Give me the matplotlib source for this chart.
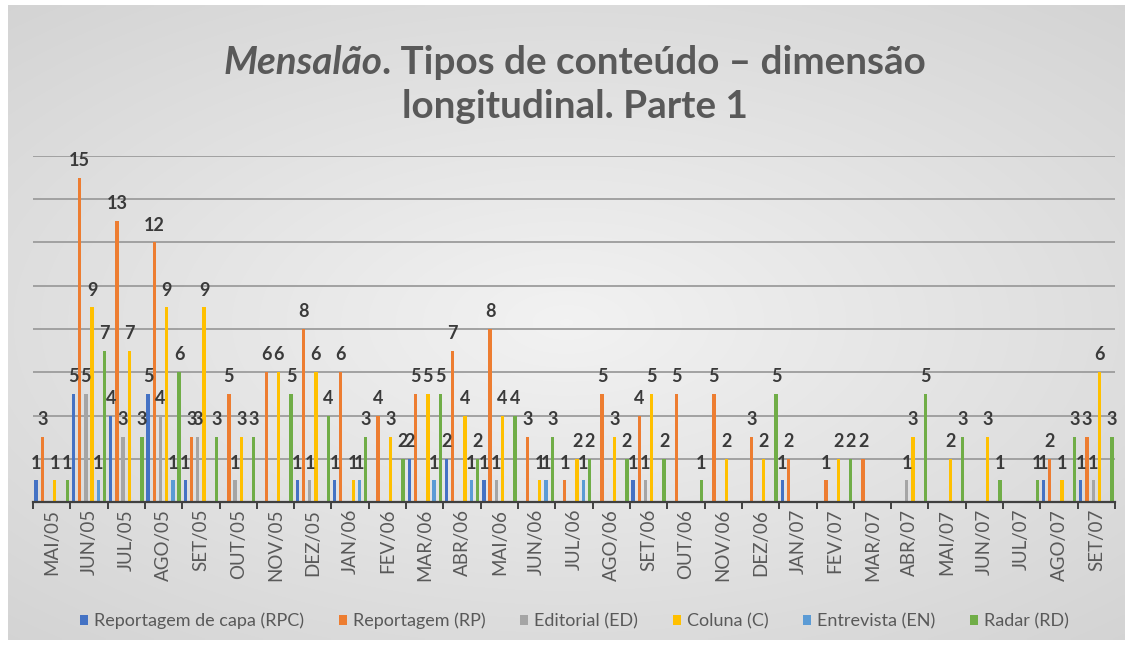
import numpy as np
import matplotlib
matplotlib.use("Agg")
import matplotlib.pyplot as plt
from matplotlib.patches import Patch

months = ["MAI/05", "JUN/05", "JUL/05", "AGO/05", "SET/05", "OUT/05", "NOV/05", "DEZ/05",
          "JAN/06", "FEV/06", "MAR/06", "ABR/06", "MAI/06", "JUN/06", "JUL/06", "AGO/06",
          "SET/06", "OUT/06", "NOV/06", "DEZ/06", "JAN/07", "FEV/07", "MAR/07", "ABR/07",
          "MAI/07", "JUN/07", "JUL/07", "AGO/07", "SET/07"]

rpc = [1, 5, 4, 5, 1, 0, 0, 1, 1, 0, 2, 2, 1, 0, 0, 0, 1, 0, 0, 0, 1, 0, 0, 0, 0, 0, 0, 1, 1]
rp  = [3, 15, 13, 12, 3, 5, 6, 8, 6, 4, 5, 7, 8, 3, 1, 5, 4, 5, 5, 3, 2, 1, 2, 0, 0, 0, 0, 2, 3]
ed  = [0, 5, 3, 4, 3, 1, 0, 1, 0, 0, 0, 0, 1, 0, 0, 0, 1, 0, 0, 0, 0, 0, 0, 1, 0, 0, 0, 0, 1]
col = [1, 9, 7, 9, 9, 3, 6, 6, 1, 3, 5, 4, 4, 1, 2, 3, 5, 0, 2, 2, 0, 2, 0, 3, 2, 3, 0, 1, 6]
en  = [0, 1, 0, 1, 0, 0, 0, 0, 1, 0, 1, 1, 0, 1, 1, 0, 0, 0, 0, 0, 0, 0, 0, 0, 0, 0, 0, 0, 0]
rd  = [1, 7, 3, 6, 3, 3, 5, 4, 3, 2, 5, 2, 4, 3, 2, 2, 2, 1, 0, 5, 0, 2, 0, 5, 3, 1, 1, 3, 3]

series_names = ["Reportagem de capa (RPC)", "Reportagem (RP)", "Editorial (ED)",
                "Coluna (C)", "Entrevista (EN)", "Radar (RD)"]
series_values = [rpc, rp, ed, col, en, rd]
series_colors = ["#4472C4", "#ED7D31", "#A5A5A5", "#FFC000", "#5B9BD5", "#70AD47"]

FONT = ["Lato", "DejaVu Sans"]
plt.rcParams["font.family"] = FONT
TXT = "#595959"

W, H = 1131, 645
fig = plt.figure(figsize=(W / 100, H / 100), dpi=100, facecolor="white")

# background chart area with soft radial gradient
bg = fig.add_axes([8 / W, 5 / H, (1125 - 8) / W, (640 - 5) / H])
bg.set_axis_off()
yy, xx = np.mgrid[-1:1:200j, -1:1:350j]
rr = np.sqrt((xx * 0.9) ** 2 + (yy * 1.0) ** 2)
rr = np.clip(rr / 1.35, 0, 1)
c_in = np.array([0.95, 0.95, 0.95])
c_out = np.array([0.83, 0.83, 0.83])
img = c_in[None, None, :] * (1 - rr[..., None]) + c_out[None, None, :] * rr[..., None]
bg.imshow(img, aspect="auto", extent=[0, 1, 0, 1], interpolation="bilinear")

ax = fig.add_axes([33 / W, (H - 502) / H, (1115 - 33) / W, (502 - 156) / H])
ax.patch.set_alpha(0)

n = len(months)
nser = len(series_values)
x = np.arange(n)
bw = 0.09
for j, (vals, colr) in enumerate(zip(series_values, series_colors)):
    pos = x - 0.5 + (j + 0.5) / nser
    ax.bar(pos, vals, width=bw, color=colr, zorder=3)
    for p, v in zip(pos, vals):
        if v > 0:
            ax.annotate(str(v), (p, v), xytext=(0, 12.5), textcoords="offset points",
                        ha="center", va="center", fontsize=13, fontweight="bold",
                        color="#3a3a3a", zorder=5)

ax.set_xlim(-0.5, n - 0.5)
ax.set_ylim(0, 16)
ax.set_yticks(np.arange(2, 17, 2))
ax.yaxis.grid(True, color="#9c9c9c", linewidth=1.3, zorder=0)
ax.tick_params(axis="y", length=0, labelleft=False)
for s in ["top", "right", "left"]:
    ax.spines[s].set_visible(False)
ax.spines["bottom"].set_color("#404040")
ax.spines["bottom"].set_linewidth(1.6)
ax.spines["bottom"].set_zorder(4)

ax.set_xticks(x)
ax.set_xticklabels(months, rotation=90, fontsize=13.5, color=TXT)
ax.tick_params(axis="x", which="major", length=0, pad=5)
ax.set_xticks(np.arange(-0.5, n, 1), minor=True)
ax.tick_params(axis="x", which="minor", length=5, width=1.4, color="#404040", direction="out")

# title with italic first word
tsize = 26
y1 = 1 - 63 / H
y2 = 1 - 106 / H
t_it = fig.text(0, y1, "Mensalão", fontsize=tsize, style="italic", fontweight="bold",
                color=TXT, va="center")
t_rest = fig.text(0, y1, ". Tipos de conteúdo – dimensão", fontsize=tsize, fontweight="bold",
                  color=TXT, va="center")
t_2 = fig.text(0.508, y2, "longitudinal. Parte 1", fontsize=tsize, fontweight="bold",
               color=TXT, va="center", ha="center")
fig.canvas.draw()
r = fig.canvas.get_renderer()
w1 = t_it.get_window_extent(r).width
w2 = t_rest.get_window_extent(r).width
scale = 703.0 / (w1 + w2)
for t in (t_it, t_rest, t_2):
    t.set_fontsize(tsize * scale)
fig.canvas.draw()
w1 = t_it.get_window_extent(r).width
w2 = t_rest.get_window_extent(r).width
start = 0.508 * W - (w1 + w2) / 2
t_it.set_x(start / W)
t_rest.set_x((start + w1) / W)

handles = [Patch(facecolor=c, edgecolor="none") for c in series_colors]
leg = fig.legend(handles, series_names, loc="center", bbox_to_anchor=(0.508, 1 - 621 / H),
                 ncol=6, frameon=False, fontsize=13, handlelength=0.45, handleheight=0.45,
                 handletextpad=0.35, columnspacing=1.9)
for t in leg.get_texts():
    t.set_color(TXT)

fig.savefig("out.png", dpi=100, facecolor="white")
